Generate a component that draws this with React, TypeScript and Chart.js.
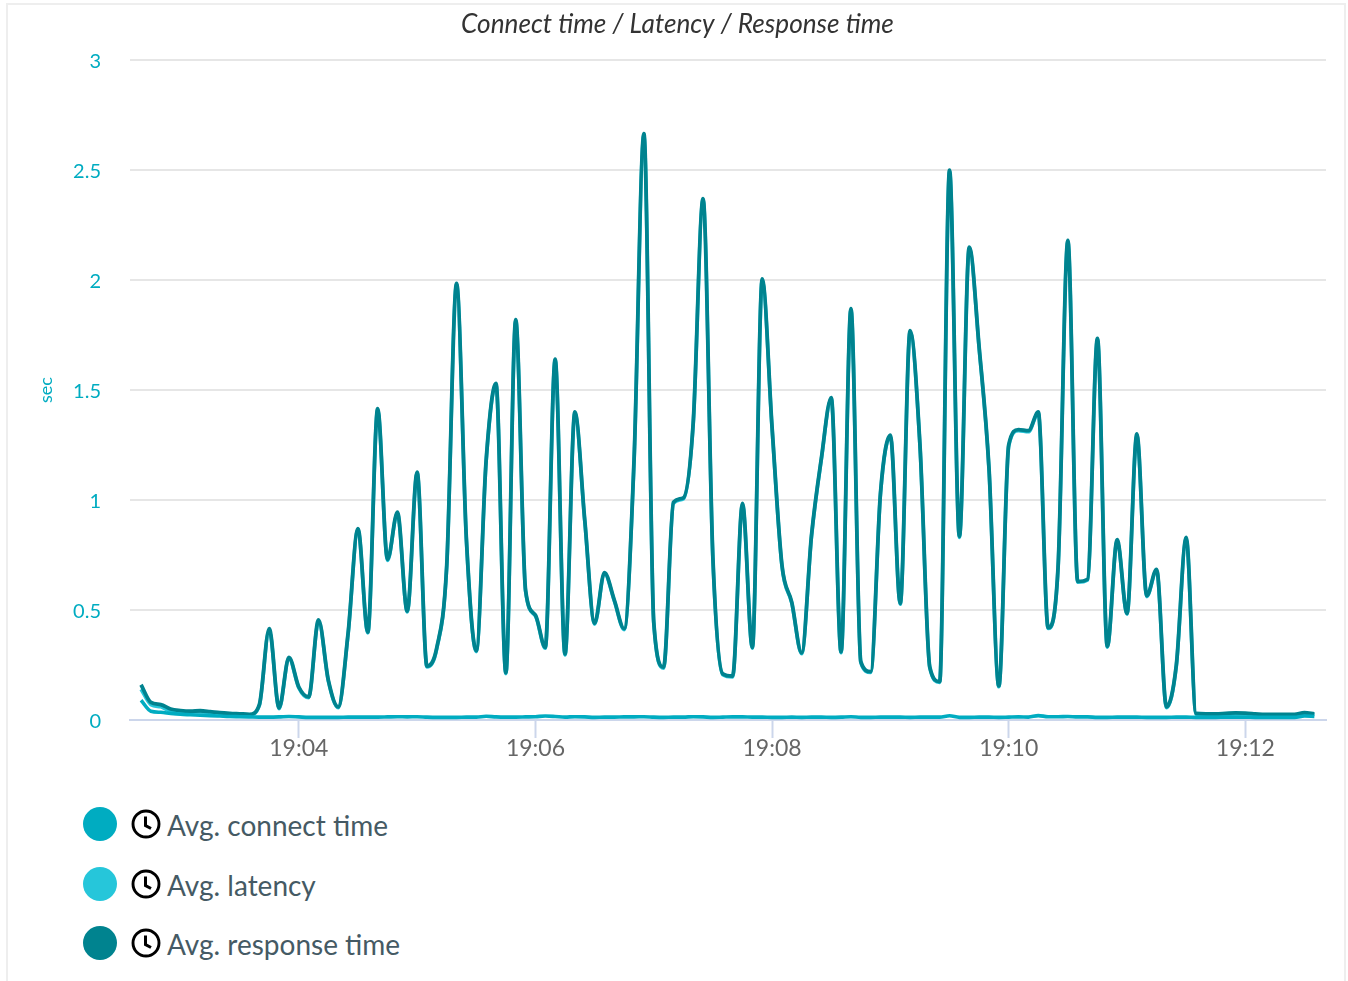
import React, { useEffect, useRef } from "react";
import { Chart, registerables } from "chart.js";

Chart.register(...registerables);

const chartTitle = "Connect time / Latency / Response time";
const seriesNames = ["Avg. connect time", "Avg. latency", "Avg. response time"];
const seriesColors = ["#00acc1", "#26c6da", "#00838f"];
const startSeconds = 19 * 3600 + 2 * 60 + 40;
const stepSeconds = 5;
const xTickValues = [68640, 68760, 68880, 69000, 69120];
const yTickValues = [0, 0.5, 1, 1.5, 2, 2.5, 3];

const responseTime = [
  0.16, 0.08, 0.07, 0.05, 0.043, 0.04, 0.042, 0.038, 0.033, 0.03,
  0.028, 0.026, 0.07, 0.415, 0.055, 0.285, 0.15, 0.105, 0.455, 0.18,
  0.06, 0.395, 0.87, 0.4, 1.415, 0.73, 0.945, 0.495, 1.127, 0.245,
  0.33, 0.7, 1.985, 0.82, 0.315, 1.18, 1.53, 0.215, 1.82, 0.59,
  0.477, 0.33, 1.64, 0.3, 1.4, 0.91, 0.44, 0.67, 0.545, 0.415,
  1.18, 2.665, 0.445, 0.24, 0.99, 1.01, 1.35, 2.37, 0.735, 0.21,
  0.2, 0.985, 0.33, 2.005, 1.33, 0.705, 0.535, 0.305, 0.84, 1.19,
  1.465, 0.31, 1.87, 0.265, 0.22, 1.035, 1.295, 0.53, 1.77, 1.25,
  0.24, 0.175, 2.5, 0.835, 2.15, 1.695, 1.145, 0.155, 1.25, 1.32,
  1.315, 1.4, 0.42, 0.69, 2.18, 0.63, 0.64, 1.735, 0.335, 0.82,
  0.485, 1.3, 0.565, 0.685, 0.06, 0.25, 0.83, 0.03, 0.028, 0.028,
  0.03, 0.032, 0.031, 0.028, 0.025, 0.026, 0.025, 0.026, 0.033, 0.028,
];

const latency = [
  0.14, 0.07, 0.06, 0.04, 0.038, 0.036, 0.038, 0.034, 0.03, 0.027,
  0.025, 0.023, 0.066, 0.41, 0.051, 0.28, 0.146, 0.101, 0.45, 0.176,
  0.056, 0.39, 0.865, 0.396, 1.41, 0.725, 0.94, 0.491, 1.122, 0.241,
  0.326, 0.695, 1.98, 0.815, 0.311, 1.175, 1.525, 0.211, 1.815, 0.585,
  0.473, 0.326, 1.635, 0.296, 1.395, 0.905, 0.436, 0.665, 0.541, 0.411,
  1.175, 2.66, 0.441, 0.236, 0.985, 1.005, 1.345, 2.365, 0.73, 0.206,
  0.196, 0.98, 0.326, 2.0, 1.325, 0.7, 0.531, 0.301, 0.835, 1.185,
  1.46, 0.306, 1.865, 0.261, 0.216, 1.03, 1.29, 0.526, 1.765, 1.245,
  0.236, 0.171, 2.495, 0.83, 2.145, 1.69, 1.14, 0.151, 1.245, 1.315,
  1.31, 1.395, 0.416, 0.685, 2.175, 0.626, 0.636, 1.73, 0.331, 0.815,
  0.481, 1.295, 0.561, 0.68, 0.056, 0.246, 0.825, 0.026, 0.024, 0.024,
  0.026, 0.028, 0.027, 0.024, 0.021, 0.022, 0.021, 0.022, 0.029, 0.024,
];

const connectTime = [
  0.09, 0.04, 0.035, 0.03, 0.026, 0.024, 0.022, 0.02, 0.018, 0.016,
  0.015, 0.014, 0.013, 0.013, 0.014, 0.016, 0.014, 0.012, 0.012, 0.012,
  0.012, 0.013, 0.013, 0.013, 0.013, 0.014, 0.015, 0.014, 0.015, 0.013,
  0.012, 0.012, 0.012, 0.013, 0.013, 0.017, 0.014, 0.013, 0.013, 0.014,
  0.015, 0.018, 0.016, 0.013, 0.015, 0.014, 0.012, 0.013, 0.013, 0.014,
  0.014, 0.015, 0.013, 0.012, 0.013, 0.013, 0.015, 0.014, 0.012, 0.013,
  0.014, 0.014, 0.013, 0.013, 0.012, 0.012, 0.013, 0.012, 0.013, 0.013,
  0.012, 0.013, 0.015, 0.012, 0.012, 0.013, 0.013, 0.013, 0.012, 0.013,
  0.013, 0.013, 0.019, 0.012, 0.012, 0.013, 0.013, 0.012, 0.013, 0.014,
  0.013, 0.02, 0.015, 0.015, 0.016, 0.014, 0.014, 0.012, 0.012, 0.013,
  0.013, 0.013, 0.012, 0.012, 0.012, 0.013, 0.013, 0.012, 0.012, 0.012,
  0.013, 0.013, 0.013, 0.012, 0.012, 0.012, 0.012, 0.012, 0.018, 0.016,
];

const seriesValues = [connectTime, latency, responseTime];
const drawOrder = [0, 2, 1];
const lineWidths = [3.6, 3.6, 3.8];

const toPoints = (values: number[]) =>
  values.map((y, i) => ({ x: startSeconds + i * stepSeconds, y }));

const pad2 = (n: number) => String(n).padStart(2, "0");
const formatClock = (s: number) => `${pad2(Math.floor(s / 3600))}:${pad2(Math.floor(s / 60) % 60)}`;

const FONT = "Lato, 'Noto Sans', sans-serif";

const centerTitle = {
  id: "centerTitle",
  afterLayout(chart: any) {
    chart.titleBlock.left = 7;
    chart.titleBlock.right = 1348;
  },
};

function ClockIcon() {
  return (
    <svg width="30" height="30" viewBox="0 0 30 30" style={{ display: "block" }}>
      <circle cx="15" cy="15" r="13" fill="none" stroke="#000" strokeWidth="2.9" />
      <path d="M14.5 7.5 V16.5 L20 19.5" fill="none" stroke="#000" strokeWidth="3" />
    </svg>
  );
}

export default function App() {
  const ref = useRef<HTMLCanvasElement>(null);

  useEffect(() => {
    document.body.style.margin = "0";
    const chart = new Chart(ref.current!, {
      type: "line",
      plugins: [centerTitle],
      data: {
        datasets: seriesNames.map((name, k) => ({
          label: name,
          data: toPoints(seriesValues[k]),
          borderColor: seriesColors[k],
          backgroundColor: seriesColors[k],
          borderWidth: lineWidths[k],
          pointRadius: 0,
          cubicInterpolationMode: "monotone" as const,
          order: drawOrder[k],
        })),
      },
      options: {
        animation: false,
        responsive: false,
        layout: { padding: { left: 0, right: 22, top: 0, bottom: 0 } },
        plugins: {
          legend: { display: false },
          tooltip: { enabled: false },
          title: {
            display: true,
            text: chartTitle,
            color: "#333",
            font: { family: FONT, size: 26.2, style: "italic", weight: "normal", lineHeight: 1.2 },
            padding: { top: 9, bottom: 19.6 },
          },
        },
        scales: {
          x: {
            type: "linear",
            min: 68554.4,
            max: 69160.9,
            afterBuildTicks: (axis: any) => {
              axis.ticks = xTickValues.map((value) => ({ value }));
            },
            afterFit: (axis: any) => {
              axis.height = 60;
            },
            grid: {
              drawOnChartArea: false,
              drawTicks: true,
              tickLength: 18,
              tickColor: "#ccd6eb",
              tickWidth: 2,
            },
            border: { color: "#ccd6eb", width: 2 },
            ticks: {
              autoSkip: false,
              maxRotation: 0,
              padding: -3,
              color: "#666",
              font: { family: FONT, size: 23 },
              callback: (v: any) => formatClock(Number(v)),
            },
          },
          y: {
            min: 0,
            max: 3,
            afterBuildTicks: (axis: any) => {
              axis.ticks = yTickValues.map((value) => ({ value }));
            },
            afterFit: (axis: any) => {
              axis.width = 130;
            },
            title: {
              display: true,
              text: "sec",
              color: "#00acc1",
              font: { family: FONT, size: 18 },
              padding: { top: 35, bottom: 0 },
            },
            grid: { color: "#e6e6e6", lineWidth: 2, drawTicks: false },
            border: { display: false },
            ticks: {
              padding: 29,
              labelOffset: 1.5,
              color: "#00acc1",
              font: { family: FONT, size: 20 },
              callback: (v: any) => String(v),
            },
          },
        },
      },
    } as any);
    return () => chart.destroy();
  }, []);

  return (
    <div style={{ position: "absolute", left: 0, top: 0, width: 1348, height: 981, overflow: "hidden", background: "#fff" }}>
      <div
        style={{
          position: "absolute",
          left: 6,
          top: 3,
          width: 1340,
          height: 990,
          border: "2px solid #eee",
          boxSizing: "border-box",
        }}
      />
      <canvas ref={ref} width={1348} height={780} style={{ position: "absolute", left: 0, top: 0, display: "block" }} />
      {seriesNames.map((name, k) => (
        <div
          key={name}
          style={{
            position: "absolute",
            left: 83,
            top: 807 + k * 59.7,
            height: 34,
            display: "flex",
            alignItems: "center",
            fontFamily: FONT,
            fontSize: 28,
            color: "#455a64",
            whiteSpace: "nowrap",
          }}
        >
          <span style={{ width: 34, height: 34, borderRadius: "50%", background: seriesColors[k], display: "block" }} />
          <span style={{ marginLeft: 14, display: "block" }}>
            <ClockIcon />
          </span>
          <span style={{ marginLeft: 6, display: "block", position: "relative", top: 1 }}>{name}</span>
        </div>
      ))}
    </div>
  );
}
